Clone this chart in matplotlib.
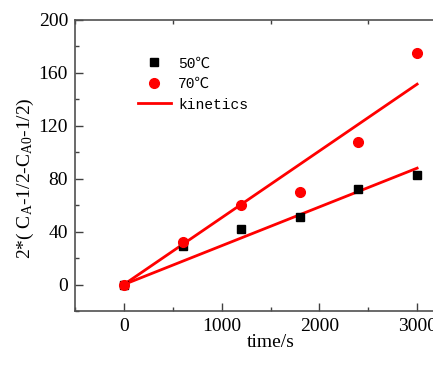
import matplotlib
matplotlib.use("Agg")
import matplotlib.pyplot as plt
from matplotlib.ticker import MultipleLocator

t = [0, 600, 1200, 1800, 2400, 3000]
y50 = [0, 29, 42, 51, 72, 83]
y70 = [0, 32, 60, 70, 108, 175]
fit_t = [0, 3000]
fit50 = [0, 88]
fit70 = [0, 151.5]

plt.rcParams['font.family'] = ['Liberation Serif', 'Noto Sans CJK SC', 'DejaVu Sans']
plt.rcParams['mathtext.fontset'] = 'custom'
plt.rcParams['mathtext.rm'] = 'Liberation Serif'
plt.rcParams['mathtext.it'] = 'Liberation Serif'

fig = plt.figure(figsize=(4.33, 3.67), dpi=100)
ax = fig.add_axes([75/433, 56/367, 391/433, 291/367])

ax.plot(t, y50, 's', color='black', ms=6, label='50℃', zorder=3)
ax.plot(t, y70, 'o', color='red', ms=7, label='70℃', zorder=3)
ax.plot(fit_t, fit50, '-', color='red', lw=2, label='kinetics', zorder=2)
ax.plot(fit_t, fit70, '-', color='red', lw=2, zorder=2)

ax.set_xlim(-500, 3500)
ax.set_ylim(-20, 200)
ax.xaxis.set_major_locator(MultipleLocator(1000))
ax.xaxis.set_minor_locator(MultipleLocator(500))
ax.yaxis.set_major_locator(MultipleLocator(40))
ax.yaxis.set_minor_locator(MultipleLocator(20))
ax.tick_params(which='major', direction='in', length=6, width=1, labelsize=14,
               colors='#404040', labelcolor='black', right=True, pad=5)
ax.tick_params(which='minor', direction='in', length=3, width=1, colors='#404040',
               top=True, right=True)
for s in ax.spines.values():
    s.set_color('#505050')
    s.set_linewidth(1.2)

ax.set_xlabel('time/s', fontsize=14, labelpad=-1)
ax.set_ylabel(r'2*( C$_{\mathrm{A}}$-1/2-C$_{\mathrm{A0}}$-1/2)', fontsize=14)
ax.yaxis.set_label_coords(-0.100, 0.455)

leg = ax.legend(loc='upper left', bbox_to_anchor=(0.145, 0.895), frameon=False,
                prop={'family': ['Liberation Mono', 'Noto Sans CJK SC'], 'size': 10.5},
                handlelength=2.3, handletextpad=0.5, labelspacing=0.45,
                borderaxespad=0)
plt.savefig('out.png', dpi=100)
